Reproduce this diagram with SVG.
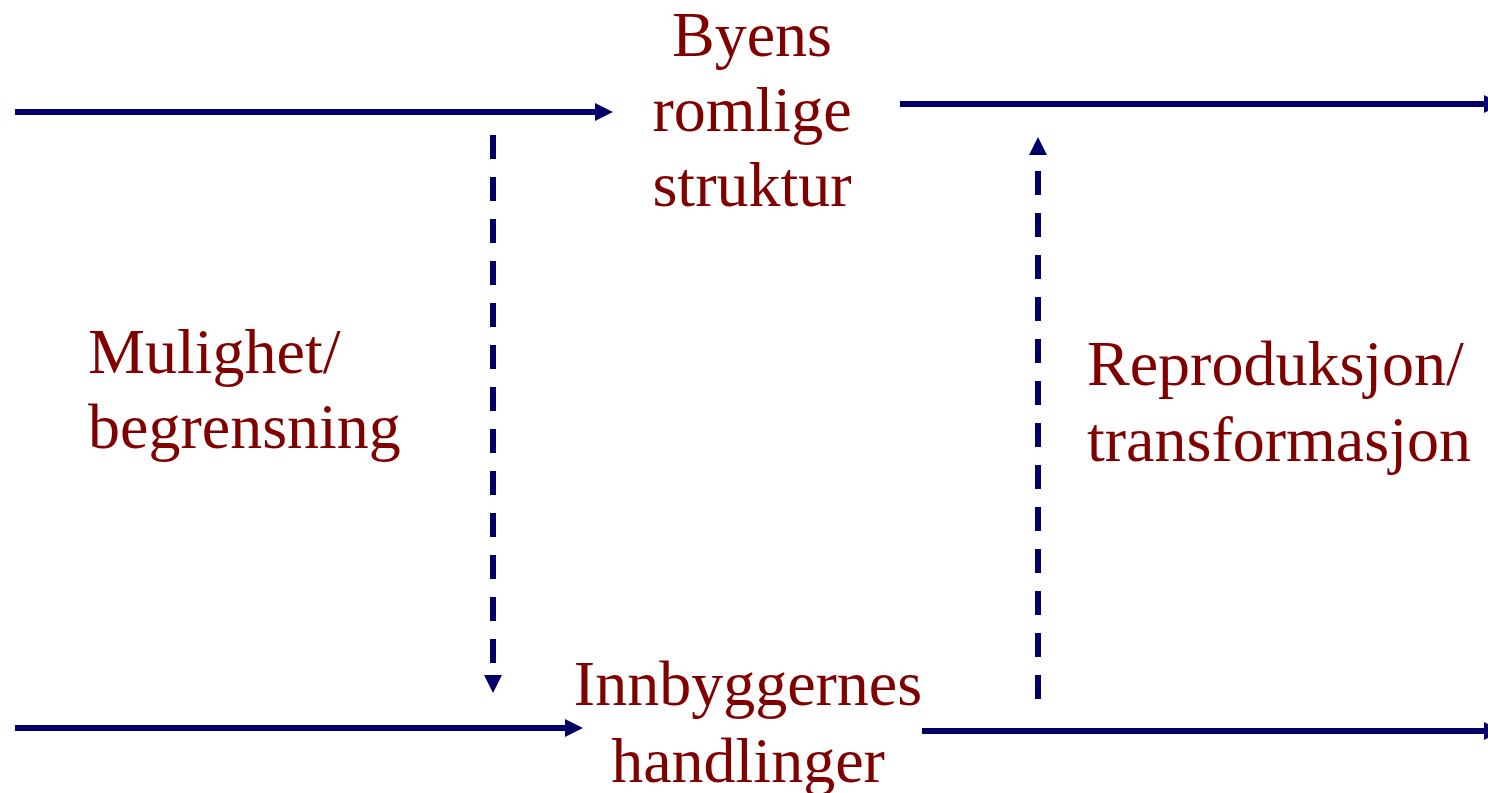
<svg xmlns="http://www.w3.org/2000/svg" width="1488" height="793" viewBox="0 0 1488 793">
<style>
.t{font-family:"Liberation Serif","Times New Roman",serif;font-size:64px;fill:#800000}
.c{text-anchor:middle}
.ln{stroke:#000066;stroke-width:6;fill:none}
.d{stroke:#000066;stroke-width:6;fill:none;stroke-dasharray:24 18}
</style>
<defs>
<marker id="ah" markerUnits="userSpaceOnUse" markerWidth="18" markerHeight="18" viewBox="0 0 18 18" refX="0" refY="9" orient="auto">
<path d="M0,0 L18,9 L0,18 z" fill="#000066"/>
</marker>
</defs>
<rect width="1488" height="793" fill="#ffffff"/>
<g id="connectors">
<line class="ln" x1="15" y1="112" x2="595" y2="112" marker-end="url(#ah)"/>
<line class="ln" x1="900" y1="104" x2="1484" y2="104" marker-end="url(#ah)"/>
<line class="ln" x1="15" y1="728" x2="565" y2="728" marker-end="url(#ah)"/>
<line class="ln" x1="922" y1="731" x2="1484" y2="731" marker-end="url(#ah)"/>
<line class="d" x1="493" y1="135" x2="493" y2="675" marker-end="url(#ah)"/>
<line class="d" x1="1038" y1="699" x2="1038" y2="155" marker-end="url(#ah)"/>
</g>
<g id="node-byens">
<text class="t c" x="752" y="56">Byens</text>
<text class="t c" x="752" y="131">romlige</text>
<text class="t c" x="752" y="206">struktur</text>
</g>
<g id="node-mulighet">
<text class="t" x="88" y="373">Mulighet/</text>
<text class="t" x="88" y="448">begrensning</text>
</g>
<g id="node-reproduksjon">
<text class="t" x="1087" y="385">Reproduksjon/</text>
<text class="t" x="1087" y="461">transformasjon</text>
</g>
<g id="node-innbyggernes">
<text class="t c" x="748" y="705">Innbyggernes</text>
<text class="t c" x="748" y="782">handlinger</text>
</g>
</svg>
